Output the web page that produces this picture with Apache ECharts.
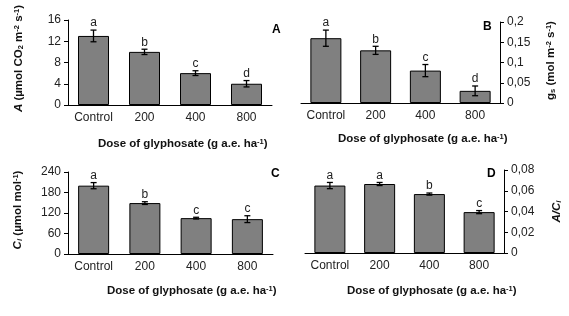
<!DOCTYPE html>
<html>
<head>
<meta charset="utf-8">
<script src="https://cdn.jsdelivr.net/npm/echarts@6/dist/echarts.min.js"></script>
<style>
  html, body { margin: 0; padding: 0; background: #fff; }
  #main { width: 569px; height: 316px; }
</style>
</head>
<body>
<div id="main"></div>
<script>
'use strict';

// data
var doses = ['Control', '200', '400', '800'];

var netA = [13, 10, 6, 4];
var netAErr = [1.1, 0.5, 0.45, 0.6];
var netALetters = ['a', 'b', 'c', 'd'];

var gsVal = [0.16, 0.13, 0.08, 0.03];
var gsErr = [0.02, 0.01, 0.015, 0.012];
var gsLetters = ['a', 'b', 'c', 'd'];

var ciVal = [200, 149, 105, 102];
var ciErr = [9, 4, 2.5, 10];
var ciLetters = ['a', 'b', 'c', 'c'];

var aciVal = [0.065, 0.0665, 0.0568, 0.0394];
var aciErr = [0.003, 0.0015, 0.001, 0.0015];
var aciLetters = ['a', 'a', 'b', 'c'];

var FONT = '"Liberation Sans", Arial, sans-serif';

var myChart = echarts.init(document.getElementById('main'));

function comma(v) {
    return String(+v.toFixed(4)).replace('.', ',');
}

var richName = {
    i: { fontStyle: 'italic', fontWeight: 'bold', fontSize: 11.5, fontFamily: FONT },
    b: { fontWeight: 'bold', fontSize: 11.5, fontFamily: FONT },
    sup: { fontWeight: 'bold', fontSize: 7.5, verticalAlign: 'top', fontFamily: FONT },
    sub: { fontWeight: 'bold', fontSize: 7.5, verticalAlign: 'bottom', fontFamily: FONT },
    isub: { fontWeight: 'bold', fontStyle: 'italic', fontSize: 8, verticalAlign: 'bottom', fontFamily: FONT }
};

var grids = [
    { left: 68, top: 20, width: 204, height: 85 },
    { left: 301, top: 22, width: 199, height: 81 },
    { left: 68, top: 172, width: 205, height: 82 },
    { left: 305, top: 170, width: 199, height: 83 }
];

function xAxisFor(i) {
    return {
        type: 'category',
        gridIndex: i,
        data: doses,
        axisLine: { lineStyle: { color: '#000', width: 1 } },
        axisTick: { length: 3, lineStyle: { color: '#000' } },
        axisLabel: { interval: 0, color: '#222', fontSize: 12, fontFamily: FONT, margin: 7 }
    };
}

function yAxisFor(i, max, interval, pos, name, gap, pad, fmt) {
    return {
        type: 'value',
        gridIndex: i,
        min: 0,
        max: max,
        interval: interval,
        position: pos,
        name: name,
        nameLocation: 'middle',
        nameRotate: 90,
        nameGap: gap,
        nameTextStyle: { rich: richName, color: '#111', padding: pad },
        splitLine: { show: false },
        axisLine: { show: true, lineStyle: { color: '#000', width: 1 } },
        axisTick: { show: true, length: 4, lineStyle: { color: '#000' } },
        axisLabel: { color: '#222', fontSize: 12, fontFamily: FONT, margin: 7, formatter: fmt }
    };
}

function barSeries(i, vals) {
    return {
        type: 'bar',
        xAxisIndex: i,
        yAxisIndex: i,
        data: vals,
        barWidth: 31,
        itemStyle: { color: '#808080', borderColor: '#000', borderWidth: 1 },
        silent: true
    };
}

function errSeries(i, vals, errs, letters) {
    var d = vals.map(function (v, k) { return [k, v, errs[k]]; });
    return {
        type: 'custom',
        xAxisIndex: i,
        yAxisIndex: i,
        data: d,
        z: 10,
        renderItem: function (params, api) {
            var k = api.value(0), v = api.value(1), e = api.value(2);
            var top = api.coord([k, v + e]);
            var bot = api.coord([k, v - e]);
            var c = 3;
            var st = { stroke: '#000', lineWidth: 1.3 };
            return {
                type: 'group',
                children: [
                    { type: 'line', shape: { x1: top[0], y1: top[1], x2: bot[0], y2: bot[1] }, style: st },
                    { type: 'line', shape: { x1: top[0] - c, y1: top[1], x2: top[0] + c, y2: top[1] }, style: st },
                    { type: 'line', shape: { x1: bot[0] - c, y1: bot[1], x2: bot[0] + c, y2: bot[1] }, style: st },
                    {
                        type: 'text',
                        style: {
                            text: letters[params.dataIndex], x: top[0], y: top[1] - 1,
                            align: 'center', verticalAlign: 'bottom',
                            fontSize: 12, fontFamily: FONT, fill: '#222'
                        }
                    }
                ]
            };
        }
    };
}

var xTitle = '{b|Dose of glyphosate (g a.e. ha}{sup|-1}{b|)}';

function titleText(x, y, rich) {
    return {
        type: 'text', left: x, top: y,
        style: { text: rich, rich: richName, fill: '#111' }
    };
}

function panelLetter(x, y, t) {
    return {
        type: 'text', left: x, top: y,
        style: { text: t, fontSize: 12, fontWeight: 'bold', fontFamily: FONT, fill: '#000' }
    };
}

var option = {
    animation: false,
    grid: grids,
    xAxis: [xAxisFor(0), xAxisFor(1), xAxisFor(2), xAxisFor(3)],
    yAxis: [
        yAxisFor(0, 16, 4, 'left', '{i|A}{b| (µmol CO}{sub|2}{b| m}{sup|-2}{b| s}{sup|-1}{b|)}', 43, [0, 0, 0, 8], function (v) { return v; }),
        yAxisFor(1, 0.2, 0.05, 'right', '{b|g}{sub|s}{b| (mol m}{sup|-2}{b| s}{sup|-1}{b|)}', 45, [0, 0, 0, 4], comma),
        yAxisFor(2, 240, 60, 'left', '{i|C}{isub|i}{b| (µmol mol}{sup|-1}{b|)}', 44, [0, 0, 0, 6], function (v) { return v; }),
        yAxisFor(3, 0.08, 0.02, 'right', '{i|A/C}{isub|i}', 47, [0, 0, 0, 0], comma)
    ],
    series: [
        barSeries(0, netA), errSeries(0, netA, netAErr, netALetters),
        barSeries(1, gsVal), errSeries(1, gsVal, gsErr, gsLetters),
        barSeries(2, ciVal), errSeries(2, ciVal, ciErr, ciLetters),
        barSeries(3, aciVal), errSeries(3, aciVal, aciErr, aciLetters)
    ],
    graphic: [
        titleText(98, 138, xTitle),
        titleText(338, 133, xTitle),
        titleText(107, 285, xTitle),
        titleText(347, 285, xTitle),
        panelLetter(272, 24, 'A'),
        panelLetter(483, 21, 'B'),
        panelLetter(271, 168, 'C'),
        panelLetter(487, 168, 'D')
    ]
};

myChart.setOption(option);
</script>
</body>
</html>
